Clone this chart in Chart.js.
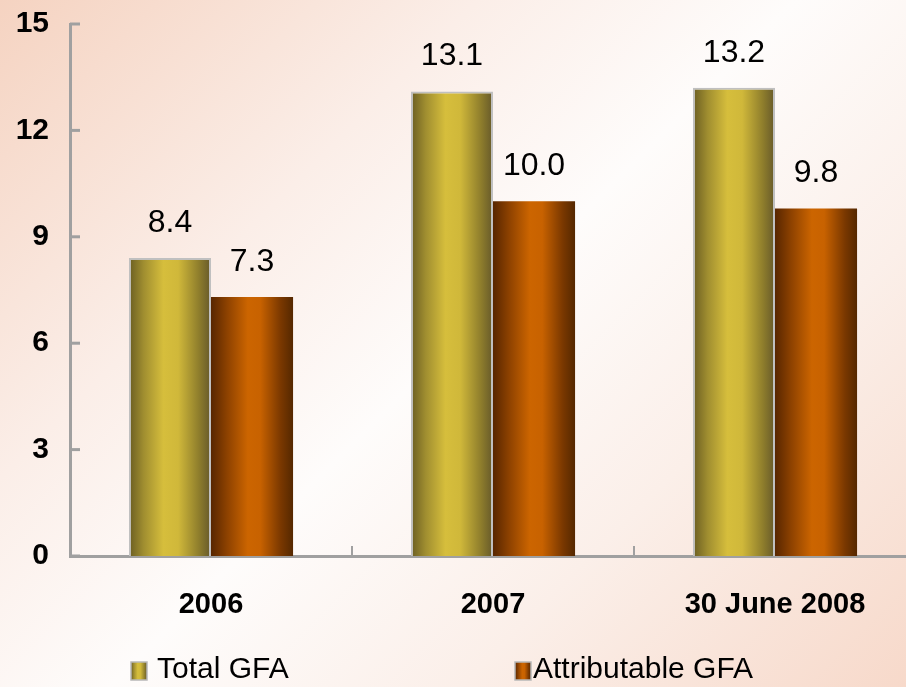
<!DOCTYPE html>
<html>
<head>
<meta charset="utf-8">
<script src="https://cdn.jsdelivr.net/npm/chart.js@4"></script>
<style>
  html, body { margin: 0; padding: 0; overflow: hidden; }
  body {
    width: 906px; height: 687px;
    background: linear-gradient(135deg, #f5d3c1 0%, #fbeee8 30%, #fefcfb 50%, #fbefe9 72%, #f7d9ca 100%);
  }
  #wrap { width: 916px; height: 687px; position: relative; }
</style>
</head>
<body>
<div id="wrap"><canvas id="gfaChart"></canvas></div>
<script>
// Data
const categories = ['2006', '2007', '30 June 2008'];
const totalGFA = [8.4, 13.1, 13.2];
const attributableGFA = [7.3, 10.0, 9.8];
const yTicks = [0, 3, 6, 9, 12, 15];
const seriesNames = ['Total GFA', 'Attributable GFA'];

const FONT = '"Liberation Sans", Arial, sans-serif';

// gradient stops for the cylinder look of each series
const shades = [
    [[0, '#6a5d22'], [0.18, '#a08e30'], [0.42, '#d6be3c'], [0.6, '#d0b83a'], [0.85, '#8f7e2c'], [1, '#66592a']],
    [[0, '#582600'], [0.2, '#8e4200'], [0.45, '#cc6500'], [0.6, '#c86200'], [0.85, '#7a3800'], [1, '#552800']]
];

function makeGradient(ctx, x0, x1, stops) {
    const g = ctx.createLinearGradient(x0, 0, x1, 0);
    stops.forEach(s => g.addColorStop(s[0], s[1]));
    return g;
}

// paint each bar with its own horizontal gradient
const barShading = {
    id: 'barShading',
    beforeDatasetsDraw(chart) {
        const ctx = chart.ctx;
        chart.data.datasets.forEach((ds, i) => {
            chart.getDatasetMeta(i).data.forEach(bar => {
                const g = makeGradient(ctx, bar.x - bar.width / 2, bar.x + bar.width / 2, shades[i]);
                // options object is shared between bars, so give each bar its own copy
                bar.options = Object.assign({}, bar.options, { backgroundColor: g });
            });
        });
    }
};

// inward tick marks on both axes
const innerTicks = {
    id: 'innerTicks',
    afterDatasetsDraw(chart) {
        const ctx = chart.ctx;
        const x = chart.scales.x, y = chart.scales.y;
        ctx.save();
        ctx.strokeStyle = '#a0a0a0';
        ctx.lineWidth = 3;
        yTicks.forEach(v => {
            const py = y.getPixelForValue(v);
            ctx.beginPath();
            ctx.moveTo(x.left, py);
            ctx.lineTo(x.left + 10, py);
            ctx.stroke();
        });
        ctx.lineWidth = 2;
        for (let i = 1; i < categories.length; i++) {
            const px = (x.getPixelForValue(i - 1) + x.getPixelForValue(i)) / 2;
            ctx.beginPath();
            ctx.moveTo(px, y.bottom);
            ctx.lineTo(px, y.bottom - 10);
            ctx.stroke();
        }
        ctx.restore();
    }
};

// value labels above bars
const valueLabels = {
    id: 'valueLabels',
    afterDatasetsDraw(chart) {
        const ctx = chart.ctx;
        ctx.save();
        ctx.font = '32px ' + FONT;
        ctx.fillStyle = '#000';
        ctx.textAlign = 'center';
        ctx.textBaseline = 'middle';
        chart.data.datasets.forEach((ds, i) => {
            chart.getDatasetMeta(i).data.forEach((bar, j) => {
                ctx.fillText(ds.data[j].toFixed(1), bar.x, bar.y - 35);
            });
        });
        ctx.restore();
    }
};

// legend drawn at the bottom with shaded swatches
const bottomLegend = {
    id: 'bottomLegend',
    afterDraw(chart) {
        const ctx = chart.ctx;
        const items = [{ x: 131 }, { x: 515 }];
        const cy = 670;
        ctx.save();
        ctx.font = '30px ' + FONT;
        ctx.textBaseline = 'middle';
        items.forEach((it, i) => {
            ctx.fillStyle = makeGradient(ctx, it.x, it.x + 16, shades[i]);
            ctx.fillRect(it.x, cy - 8, 16, 18);
            ctx.strokeStyle = '#b8b8b8';
            ctx.lineWidth = 1.5;
            ctx.strokeRect(it.x, cy - 8, 16, 18);
            ctx.fillStyle = '#000';
            ctx.fillText(chart.data.datasets[i].label, it.x + (i === 0 ? 26 : 18), cy);
        });
        ctx.restore();
    }
};

function initGFAChart() {
    const ctx = document.getElementById('gfaChart').getContext('2d');

    const chart = new Chart(ctx, {
        type: 'bar',
        data: {
            labels: categories,
            datasets: [
                {
                    label: seriesNames[0],
                    data: totalGFA,
                    backgroundColor: '#c8b038',
                    borderColor: '#c0c0c0',
                    borderWidth: { top: 2, left: 2, right: 2, bottom: 0 },
                    borderSkipped: false,
                    categoryPercentage: 0.582,
                    barPercentage: 1.0
                },
                {
                    label: seriesNames[1],
                    data: attributableGFA,
                    backgroundColor: '#cc6600',
                    borderWidth: 0,
                    categoryPercentage: 0.582,
                    barPercentage: 1.0
                }
            ]
        },
        options: {
            responsive: true,
            maintainAspectRatio: false,
            animation: false,
            layout: {
                padding: { top: 24, right: 0, bottom: 0, left: 0 }
            },
            scales: {
                x: {
                    grid: { display: false, drawTicks: false },
                    border: { display: true, color: '#a0a0a0', width: 3 },
                    ticks: {
                        color: '#000',
                        padding: 32,
                        font: { family: FONT, size: 29, weight: 'bold' }
                    },
                    afterFit(scale) { scale.height = 131; }
                },
                y: {
                    min: 0,
                    max: 15,
                    afterBuildTicks(scale) {
                        scale.ticks = yTicks.map(v => ({ value: v }));
                    },
                    grid: { display: false, drawTicks: false },
                    border: { display: true, color: '#a0a0a0', width: 3 },
                    ticks: {
                        color: '#000',
                        padding: 21,
                        font: { family: FONT, size: 30, weight: 'bold' }
                    },
                    afterFit(scale) {
                        scale.width = 70;
                        scale.paddingTop = 0;
                        scale.paddingBottom = 0;
                    }
                }
            },
            plugins: {
                legend: { display: false },
                tooltip: { enabled: false }
            }
        },
        plugins: [barShading, innerTicks, valueLabels, bottomLegend]
    });
}

document.addEventListener('DOMContentLoaded', function() {
    if (document.getElementById('gfaChart')) {
        initGFAChart();
    }
});
</script>
</body>
</html>
